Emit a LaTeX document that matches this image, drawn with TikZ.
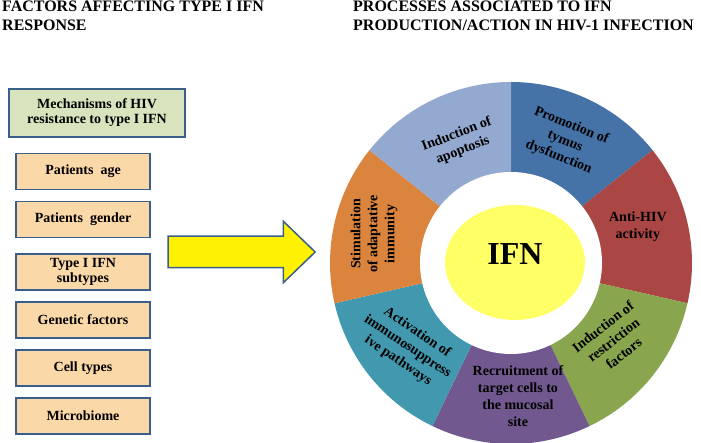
\documentclass[tikz,border=0pt]{standalone}
\usepackage{fontspec}
\setmainfont{Liberation Serif}
\usepackage{tikz}
\usetikzlibrary{shapes.geometric,shapes.arrows,positioning,calc}

\definecolor{boxline}{HTML}{3A5F8A}
\definecolor{mechgreen}{HTML}{D7E4BD}
\definecolor{peach}{HTML}{FBD8A8}
\definecolor{segblue}{HTML}{4572A7}
\definecolor{segred}{HTML}{AA4643}
\definecolor{seggreen}{HTML}{89A54E}
\definecolor{segpurple}{HTML}{71588F}
\definecolor{segteal}{HTML}{4198AF}
\definecolor{segorange}{HTML}{DB843D}
\definecolor{seglight}{HTML}{93A9CF}
\definecolor{ifnyellow}{HTML}{FFFF66}

\begin{document}
\begin{tikzpicture}[
    x=1pt, y=1pt,
    node distance=10.5pt,
    title/.style={align=left, inner sep=0pt, font=\bfseries\fontsize{16}{19}\selectfont},
    factor/.style={draw=boxline, line width=1.5pt, fill=peach, minimum width=134pt, minimum height=36pt, align=center, inner sep=1pt, font=\bfseries\fontsize{14}{15}\selectfont},
    seglabel/.style={align=center, inner sep=0pt, font=\bfseries\fontsize{14}{17}\selectfont},
]
\useasboundingbox (0,0) rectangle (701,443);

% Headers
\node[title, anchor=north west] (lefthead) at (2,442) {FACTORS AFFECTING TYPE I IFN\\RESPONSE};
\node[title, anchor=north west] (righthead) at (353,442) {PROCESSES ASSOCIATED TO IFN\\PRODUCTION/ACTION IN HIV-1 INFECTION};

% Left: factors
\node[factor, fill=mechgreen, minimum width=176pt, minimum height=48pt] (mech) at (97,330) {Mechanisms of HIV\\resistance to type I IFN};
\node[factor] (age) at (83,271.5) {Patients~ age};
\node[factor, below=of age] (gender) {Patients~ gender};
\node[factor, below=15pt of gender] (subtype) {Type I IFN\\subtypes};
\node[factor, below=of subtype] (genetic) {Genetic factors};
\node[factor, below=of genetic] (cells) {Cell types};
\node[factor, below=of cells] (micro) {Microbiome};

% Big arrow
\node[single arrow, draw=boxline, line width=1.5pt, fill=yellow, inner xsep=0pt, inner ysep=15pt,
      minimum height=147pt, single arrow head extend=15pt, single arrow tip angle=88] (bigarrow) at (233.5,191) {};

% Right: wheel
\coordinate (c) at (511,180);
\foreach \col [count=\i from 0] in {segblue,segred,seggreen,segpurple,segteal,segorange,seglight}{
  \pgfmathsetmacro{\aa}{90-\i*360/7}
  \pgfmathsetmacro{\ab}{90-(\i+1)*360/7}
  \fill[\col] (c) -- ++(\aa:181) arc[start angle=\aa, end angle=\ab, radius=181] -- cycle;
}
\fill[white] (c) circle (91);
\node[ellipse, fill=ifnyellow, minimum width=140pt, minimum height=115pt] (core) at (515,180.5) {};
\node[inner sep=0pt, font=\bfseries\fontsize{32}{34}\selectfont] (ifn) at ([yshift=8pt]core.center) {IFN};

% Segment labels
\node[seglabel, rotate=-22] (thymus) at ([shift={(66:133)}]c) {Promotion of\\tymus\\dysfunction};
\node[seglabel] (antihiv) at ([shift={(16:132)}]c) {Anti-HIV\\activity};
\node[seglabel, rotate=38] (restrict) at ([shift={(-37:128)}]c) {Induction of\\restriction\\factors};
\node[seglabel] (recruit) at ([shift={(-87:133)}]c) {Recruitment of\\target cells to\\the mucosal\\site};
\node[seglabel, rotate=-34] (suppress) at ([shift={(-141:133)}]c) {Activation of\\immunosuppress\\ive pathways};
\node[seglabel, rotate=90] (adaptive) at ([shift={(168:140)}]c) {Stimulation\\of adaptative\\immunity};
\node[seglabel, rotate=21] (apoptosis) at ([shift={(113:131)}]c) {Induction of\\apoptosis};
\end{tikzpicture}
\end{document}
